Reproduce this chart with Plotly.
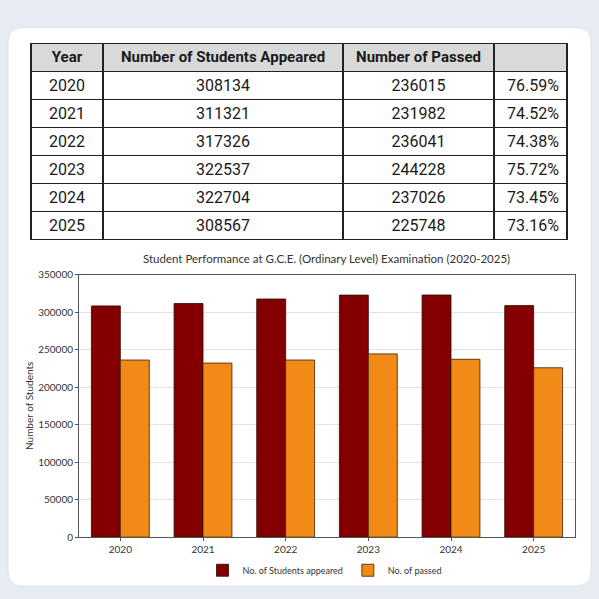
import plotly.graph_objects as go

years = ["2020", "2021", "2022", "2023", "2024", "2025"]
appeared = [308134, 311321, 317326, 322537, 322704, 308567]
passed = [236015, 231982, 236041, 244228, 237026, 225748]
pass_rate = ["76.59%", "74.52%", "74.38%", "75.72%", "73.45%", "73.16%"]
header = ["Year", "Number of Students Appeared", "Number of Passed", ""]
y_ticks = [0, 50000, 100000, 150000, 200000, 250000, 300000, 350000]

W = H = 599
def px_x(v): return v / W
def px_y(v): return 1 - v / H

fig = go.Figure()

fig.add_trace(go.Table(
    domain=dict(x=[px_x(31), px_x(567)], y=[px_y(246), px_y(38)]),
    columnwidth=[72, 240, 151, 73],
    header=dict(
        values=header,
        fill_color="#d9d9d9",
        line=dict(color="#222222", width=1.2),
        font=dict(family="Roboto", size=15, color="#1a1a1a", weight="bold"),
        align="center", height=28,
    ),
    cells=dict(
        values=[years, [str(v) for v in appeared], [str(v) for v in passed], pass_rate],
        fill_color="white",
        line=dict(color="#222222", width=1.2),
        font=dict(family="Roboto", size=16, color="#1a1a1a"),
        align=["center", "center", "center", "right"],
        height=28,
    ),
))

fig.add_trace(go.Bar(
    x=years, y=appeared, name="No. of Students appeared",
    marker=dict(color="#840000", line=dict(color="#2b0a00", width=0.8)),
))
fig.add_trace(go.Bar(
    x=years, y=passed, name="No. of passed",
    marker=dict(color="#f28a18", line=dict(color="#3a2200", width=0.8)),
))

# white rounded card (paper coordinates)
x0, x1 = px_x(8), px_x(591)
y0, y1 = px_y(592), px_y(22)
rx, ry = 15 / W, 15 / H
card = (f"M {x0+rx},{y1} L {x1-rx},{y1} Q {x1},{y1} {x1},{y1-ry} "
        f"L {x1},{y0+ry} Q {x1},{y0} {x1-rx},{y0} L {x0+rx},{y0} "
        f"Q {x0},{y0} {x0},{y0+ry} L {x0},{y1-ry} Q {x0},{y1} {x0+rx},{y1} Z")

fig.update_layout(
    width=W, height=H,
    margin=dict(l=0, r=0, t=0, b=0),
    paper_bgcolor="#e7ecf2",
    plot_bgcolor="white",
    font=dict(family="Lato", size=10, color="#333333"),
    barmode="group", bargap=0.3, bargroupgap=0,
    shapes=[dict(type="path", path=card, xref="paper", yref="paper",
                 fillcolor="white", line=dict(color="#dde3ea", width=1), layer="below")],
    xaxis=dict(domain=[px_x(79), px_x(575)], showline=True, linecolor="#555555",
               mirror=True, ticks="outside", ticklen=3, tickcolor="#555555",
               tickfont=dict(size=10, color="#333333")),
    yaxis=dict(domain=[px_y(542), px_y(274)], range=[0, 350000], tickvals=y_ticks,
               tickformat="d",
               showline=True, linecolor="#555555", mirror=True, ticks="outside",
               ticklen=3, tickcolor="#555555", gridcolor="#e3e3e3",
               tickfont=dict(size=10, color="#333333"),
               title=dict(text="Number of Students", font=dict(size=10, color="#333333"), standoff=2)),
    legend=dict(orientation="h", x=px_x(325), xanchor="center", y=px_y(561), yanchor="top",
                font=dict(size=9, color="#333333"), bgcolor="rgba(0,0,0,0)"),
    annotations=[dict(text="Student Performance at G.C.E. (Ordinary Level) Examination (2020-2025)",
                      x=px_x(326), y=px_y(258), xref="paper", yref="paper", showarrow=False,
                      xanchor="center", yanchor="middle", font=dict(size=11.5, color="#333333"))],
)

fig.write_html("out.html", config={"displayModeBar": False},
               post_script="document.body.style.margin='0';")
